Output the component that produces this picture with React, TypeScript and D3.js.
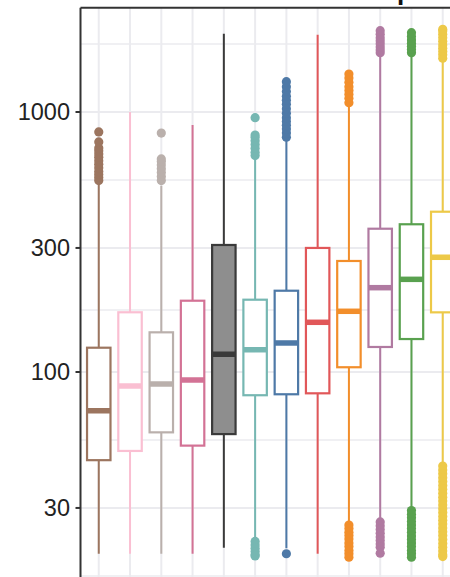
import React from 'react';
import * as d3 from 'd3';

const categories = ['G01', 'G02', 'G03', 'G04', 'G05', 'G06', 'G07', 'G08', 'G09', 'G10', 'G11', 'G12'];
const whiskerLow = [20, 20, 20, 20, 21.1, 23, 21, 20, 26.3, 27, 30, 44.7];
const q1 = [45.8, 49.7, 58.6, 52.1, 57.7, 81.4, 82.1, 82.8, 104.3, 124.8, 133.9, 169.6];
const medians = [71, 88.4, 89.9, 93.1, 117, 121.8, 129.3, 155.3, 171.2, 211, 227.2, 276.2];
const q3 = [124, 169.7, 142.1, 188, 308, 189.7, 205.4, 300, 267.3, 355.7, 370, 413.5];
const whiskerHigh = [533, 1000, 520, 891, 2000, 665, 787, 1980, 1048, 1657, 1650, 1571];
const outliers: number[][] = [
  [545, 560, 575, 590, 610, 630, 650, 670, 690, 710, 727, 767, 838],
  [],
  [545, 565, 585, 605, 625, 645, 660, 830],
  [],
  [],
  [680, 700, 725, 750, 775, 800, 815, 951, 22.3, 21.6, 21, 20.4, 19.8, 19.6],
  [800, 830, 860, 890, 920, 950, 990, 1030, 1070, 1110, 1150, 1200, 1250, 1308, 20],
  [],
  [1086, 1130, 1170, 1210, 1250, 1300, 1350, 1400, 25.8, 25, 24.2, 23.5, 22.8, 22, 21.3, 20.6, 20, 19.4],
  [1690, 1730, 1780, 1830, 1880, 1930, 1990, 2054, 26.5, 25.6, 24.8, 24, 23.2, 22.5, 21.8, 21.2, 20.1],
  [1690, 1740, 1790, 1840, 1890, 1950, 2018, 29.3, 28.4, 27.5, 26.6, 25.8, 25, 24.2, 23.4, 22.7, 22, 21.3, 20.6, 20, 19.4],
  [1610, 1660, 1710, 1760, 1810, 1870, 1930, 1990, 2050, 2080, 43.5, 42, 40.6, 39.2, 37.9, 36.6, 35.4, 34.2, 33, 31.9, 30.8, 29.8, 28.8, 27.8, 26.9, 26, 25.1, 24.3, 23.5, 22.7, 21.9, 21.2, 20.5, 19.8, 19.5],
];
const colors = ['#9C755F', '#FABFD2', '#BAB0AC', '#D37295', '#3a3a3a', '#76B7B2', '#4E79A7', '#E15759', '#F28E2B', '#B07AA1', '#59A14F', '#EDC948'];
const fills = ['#ffffff', '#ffffff', '#ffffff', '#ffffff', '#8e8e8e', '#ffffff', '#ffffff', '#ffffff', '#ffffff', '#ffffff', '#ffffff', '#ffffff'];
const yTicks = [30, 100, 300, 1000];
const yTickLabels = ['30', '100', '300', '1000'];
const minorBreaks = [16.43, 54.77, 173.2, 547.7, 1826];
const titleFragment = 'p';

export default function App() {
  const W = 450;
  const H = 577;
  const left = 80.5;
  const top = 7.7;
  const right = 461.5;
  const bottom = 600;
  const x = d3.scalePoint<string>().domain(categories).range([80, 461.5]).padding(0.6);
  const y = d3.scaleLog().domain([10, 10000]).range([632, -148]);
  const step = x.step();
  const bw = step * 0.75;
  const gridColor = '#ebebef';

  return (
    <svg width={W} height={H} style={{ position: 'fixed', left: 0, top: 0, background: '#fff' }}
      fontFamily="'Liberation Sans', Arial, sans-serif">
      <defs>
        <clipPath id="panel">
          <rect x={left} y={top} width={right - left} height={bottom - top} />
        </clipPath>
      </defs>
      <text x={397} y={-0.5} fontSize={26} fontWeight="bold" fill="#111">{titleFragment}</text>
      <rect x={left} y={top} width={right - left} height={bottom - top} fill="#fff" />
      <g clipPath="url(#panel)">
        {minorBreaks.map((v, i) => (
          <line key={'mn' + i} x1={left} x2={right} y1={y(v)} y2={y(v)} stroke={gridColor} strokeWidth={1.6} />
        ))}
        {yTicks.map((v, i) => (
          <line key={'mj' + i} x1={left} x2={right} y1={y(v)} y2={y(v)} stroke={gridColor} strokeWidth={2} />
        ))}
        {categories.map((c) => (
          <line key={'vg' + c} x1={x(c)} x2={x(c)} y1={top} y2={bottom} stroke={gridColor} strokeWidth={2} />
        ))}
        {categories.map((c, i) => {
          const cx = x(c) as number;
          const col = colors[i];
          return (
            <g key={'b' + c}>
              <line x1={cx} x2={cx} y1={y(q3[i])} y2={y(whiskerHigh[i])} stroke={col} strokeWidth={2} />
              <line x1={cx} x2={cx} y1={y(q1[i])} y2={y(whiskerLow[i])} stroke={col} strokeWidth={2} />
              <rect x={cx - bw / 2} y={y(q3[i])} width={bw} height={y(q1[i]) - y(q3[i])}
                fill={fills[i]} stroke={col} strokeWidth={2.2} />
              <line x1={cx - bw / 2} x2={cx + bw / 2} y1={y(medians[i])} y2={y(medians[i])} stroke={col} strokeWidth={5.5} />
              {outliers[i].map((v, j) => (
                <circle key={j} cx={cx} cy={y(v)} r={4.6} fill={col} />
              ))}
            </g>
          );
        })}
      </g>
      <line x1={left} x2={right} y1={top} y2={top} stroke="#333" strokeWidth={2} />
      <line x1={left} x2={left} y1={top} y2={bottom} stroke="#333" strokeWidth={2} />
      {yTicks.map((v, i) => (
        <g key={'t' + i}>
          <line x1={75.5} x2={left} y1={y(v)} y2={y(v)} stroke="#333" strokeWidth={2} />
          <text x={70} y={y(v)} dy="0.36em" textAnchor="end" fontSize={23.5} fill="#222">{yTickLabels[i]}</text>
        </g>
      ))}
    </svg>
  );
}
